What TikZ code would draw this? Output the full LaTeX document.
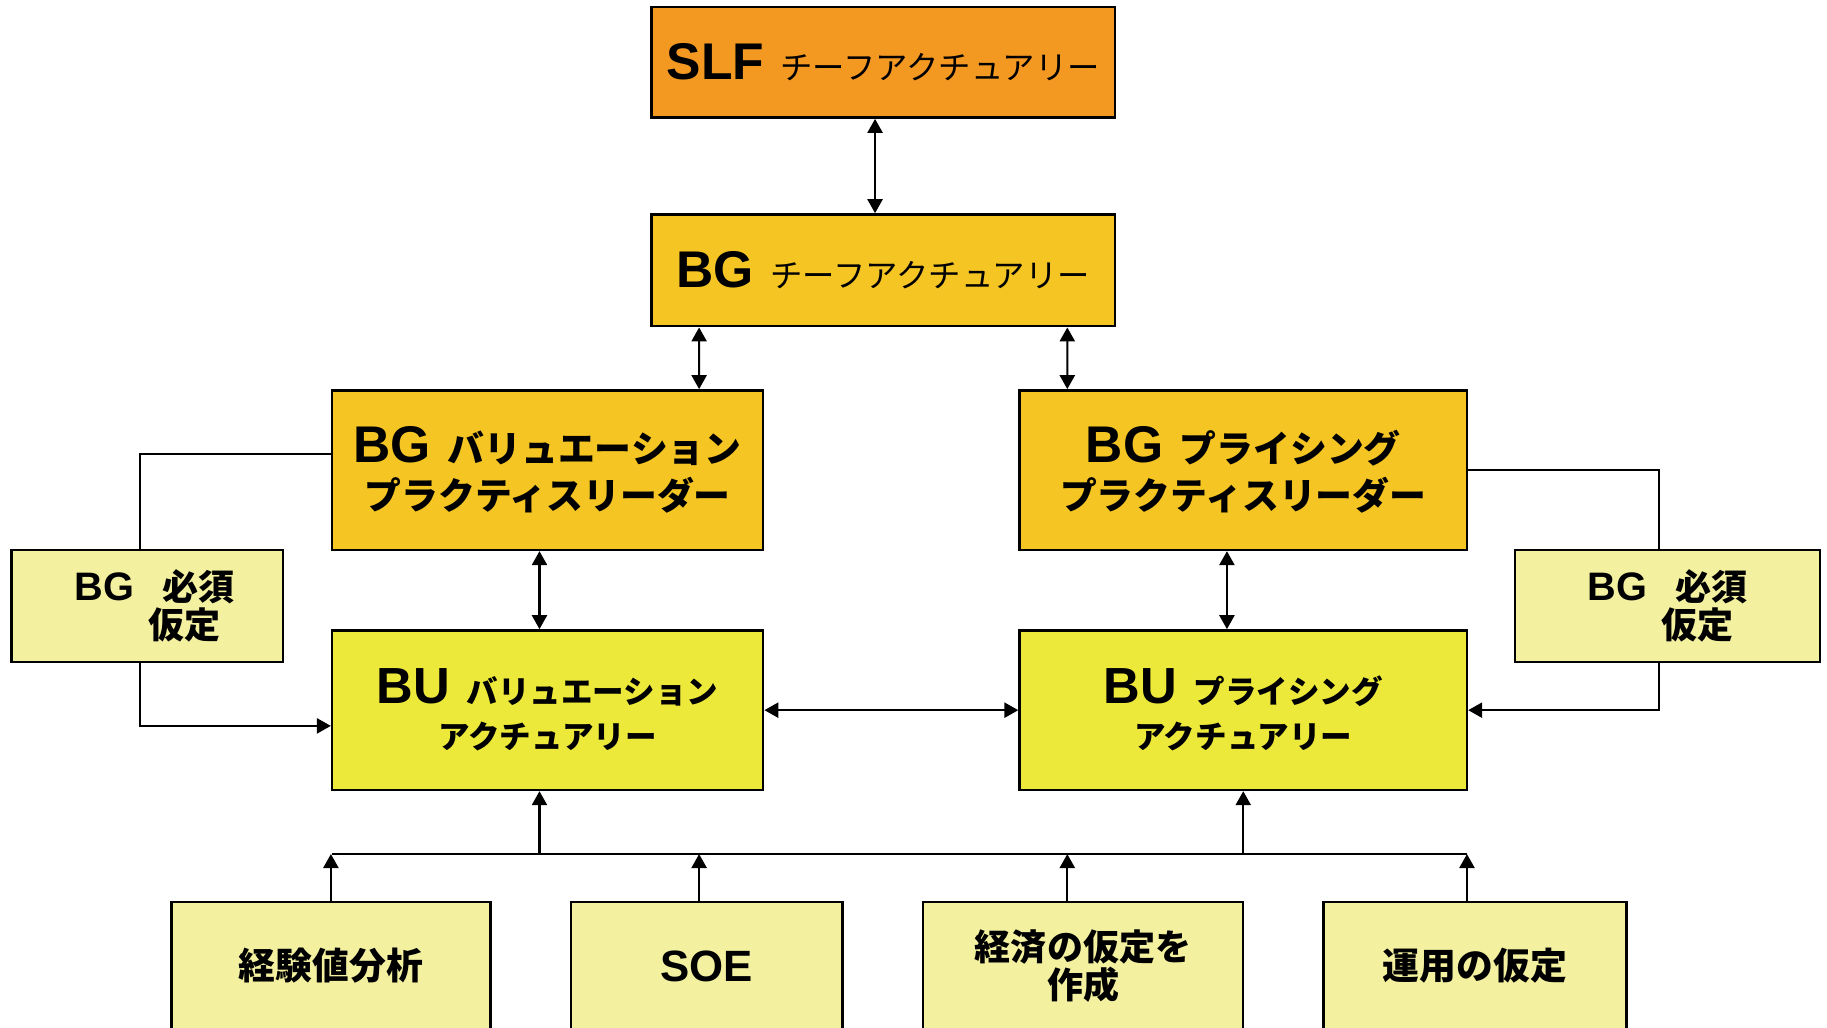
\documentclass[tikz,border=0pt]{standalone}
\usepackage{fontspec}
\setmainfont{Liberation Sans}
\newfontfamily\jp{Noto Sans CJK JP}
\usepackage{tikz}
\usetikzlibrary{arrows.meta,calc}
\definecolor{slforange}{RGB}{243,153,34}
\definecolor{bgyellow}{RGB}{245,197,35}
\definecolor{buyellow}{RGB}{237,233,59}
\definecolor{paleyellow}{RGB}{243,240,160}
\newcommand\lat[2][12.6]{{\rmfamily\bfseries\fontsize{#1}{11}\selectfont #2}}
\tikzset{
 box/.style={draw,line width=0.6pt,inner sep=0pt,align=center,font={\jp\bfseries\fontsize{9}{11.4}\selectfont}},
 arr/.style={line width=0.5pt,-{Triangle[length=1.2mm,width=1.3mm]}},
 darr/.style={line width=0.5pt,{Triangle[length=1.2mm,width=1.3mm]}-{Triangle[length=1.2mm,width=1.3mm]}},
 link/.style={line width=0.5pt}
}

\begin{document}
\begin{tikzpicture}[x=1mm,y=-1mm]
\useasboundingbox(0,0)rectangle(156.8,88.2);
\node[box,fill=slforange,minimum width=39.8mm,minimum height=9.5mm](slf)at(75.8,5.35){\lat{SLF}\hspace{4pt}{\mdseries\fontsize{7.9}{10}\selectfont チーフアクチュアリー}};
\node[box,fill=bgyellow,minimum width=39.8mm,minimum height=9.6mm](bgca)at(75.8,23.2){\lat{BG}\hspace{4pt}{\mdseries\fontsize{7.9}{10}\selectfont チーフアクチュアリー}};
\node[box,fill=bgyellow,minimum width=37mm,minimum height=13.7mm](bgval)at(47,40.35){\lat{BG}\hspace{4pt}バリュエーション\\プラクティスリーダー};
\node[box,fill=bgyellow,minimum width=38.4mm,minimum height=13.7mm](bgpr)at(106.7,40.35){\lat{BG}\hspace{4pt}プライシング\\プラクティスリーダー};
\node[box,fill=paleyellow,minimum width=23.3mm,minimum height=9.6mm,align=left,font={\jp\bfseries\fontsize{8.8}{9.4}\selectfont}](asmL)at(12.65,52){\hspace*{1.2mm}\lat[9.7]{BG}\hspace{6.8pt}必須\\\hspace*{1.2mm}\hspace*{18pt}仮定};
\node[box,fill=paleyellow,minimum width=26.2mm,minimum height=9.6mm,align=left,font={\jp\bfseries\fontsize{8.8}{9.4}\selectfont}](asmR)at(143.1,52){\lat[9.7]{BG}\hspace{6.8pt}必須\\\hspace*{18pt}仮定};
\node[box,fill=buyellow,minimum width=37mm,minimum height=13.7mm,font={\jp\bfseries\fontsize{7.7}{11}\selectfont}](buval)at(47,60.95){\lat[12.4]{BU}\hspace{4pt}バリュエーション\\アクチュアリー};
\node[box,fill=buyellow,minimum width=38.4mm,minimum height=13.7mm,font={\jp\bfseries\fontsize{7.7}{11}\selectfont}](bupr)at(106.7,60.95){\lat[12.4]{BU}\hspace{4pt}プライシング\\アクチュアリー};
\node[box,fill=paleyellow,minimum width=27.4mm,minimum height=11mm](exp)at(28.4,82.9){経験値分析};
\node[box,fill=paleyellow,minimum width=23.3mm,minimum height=11mm](soe)at(60.65,82.9){\lat[10.7]{SOE}};
\node[box,fill=paleyellow,minimum width=27.5mm,minimum height=11mm,font={\jp\bfseries\fontsize{8.8}{9.2}\selectfont}](econ)at(92.95,82.9){経済の仮定を\\作成};
\node[box,fill=paleyellow,minimum width=26mm,minimum height=11mm](ops)at(126.6,82.9){運用の仮定};
\coordinate(busL)at(28.5,73.3);
\coordinate(busR)at(125.9,73.3);
\draw[darr]([xshift=-0.7mm]slf.south)--([xshift=-0.7mm]bgca.north);
\draw[darr]([xshift=-15.8mm]bgca.south)--([xshift=13mm]bgval.north);
\draw[darr]([xshift=15.8mm]bgca.south)--([xshift=-15.1mm]bgpr.north);
\draw[darr]([xshift=-0.7mm]bgval.south)--([xshift=-0.7mm]buval.north);
\draw[darr]([xshift=-1.4mm]bgpr.south)--([xshift=-1.4mm]bupr.north);
\draw[darr](buval.east)--(bupr.west);
\draw[link]([yshift=1.35mm]bgval.west)-|([xshift=-0.65mm]asmL.north);
\draw[arr]([xshift=-0.65mm]asmL.south)|-([yshift=-1.35mm]buval.west);
\draw[link](bgpr.east)-|([xshift=-0.7mm]asmR.north);
\draw[arr]([xshift=-0.7mm]asmR.south)|-(bupr.east);
\draw[link](busL)--(busR);
\draw[arr]([xshift=-0.7mm]buval.south|-busL)--([xshift=-0.7mm]buval.south);
\draw[arr](bupr.south|-busL)--(bupr.south);
\draw[arr](exp.north)--(exp.north|-busL);
\draw[arr]([xshift=-0.65mm]soe.north)--([xshift=-0.65mm]soe.north|-busL);
\draw[arr]([xshift=-1.35mm]econ.north)--([xshift=-1.35mm]econ.north|-busL);
\draw[arr]([xshift=-0.7mm]ops.north)--([xshift=-0.7mm]ops.north|-busL);
\end{tikzpicture}
\end{document}
